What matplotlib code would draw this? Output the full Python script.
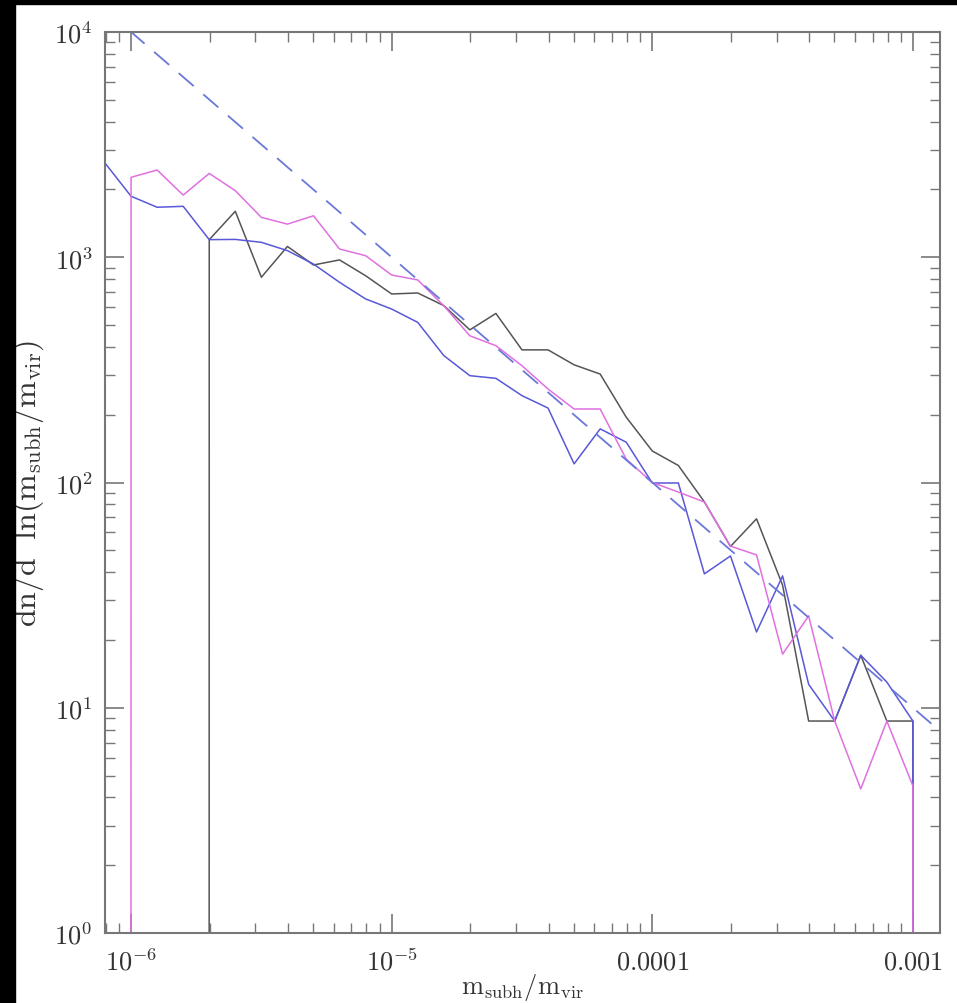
import matplotlib
matplotlib.use("Agg")
import matplotlib.pyplot as plt
import matplotlib.ticker as mticker
from matplotlib.patches import Rectangle

# bin centres, as log10(m_subh/m_vir)
log_m = [-6.1, -6.0, -5.9, -5.8, -5.7, -5.6, -5.5, -5.4, -5.3, -5.2, -5.1,
         -5.0, -4.9, -4.8, -4.7, -4.6, -4.5, -4.4, -4.3, -4.2, -4.1,
         -4.0, -3.9, -3.8, -3.7, -3.6, -3.5, -3.4, -3.3, -3.2, -3.1,
         -3.0, -2.9]

# dn/d ln(m) per run (0 = empty bin)
run_black = [0, 0, 0, 0, 1197, 1600, 815, 1117, 924, 973, 828,
             687, 694, 610, 476, 563, 388, 388, 333, 303, 195,
             138, 119, 82, 52, 69, 35, 8.73, 8.73, 17.1, 8.73,
             8.73, 0]
run_pink = [0, 2264, 2440, 1888, 2356, 1975, 1503, 1403, 1528, 1088, 1016,
            834, 793, 609, 448, 405, 330, 260, 212, 212, 127,
            100, 90.7, 81.9, 52.2, 47.7, 17.3, 25.6, 8.73, 4.36, 8.73,
            4.5, 0]
run_blue = [2620, 1866, 1667, 1683, 1197, 1200, 1165, 1070, 933, 774, 653,
            589, 514, 366, 298, 290, 243, 214, 121, 173, 151,
            99.5, 99.5, 39.3, 47.2, 21.7, 38.5, 12.7, 8.73, 17.1, 13.0,
            8.73, 0]

# power-law reference line (endpoints)
fit_x = [7.94e-7, 1.26e-3]
fit_y = [12600, 7.94]

xticks = [1e-6, 1e-5, 1e-4, 1e-3]
xticklabels = [r"$10^{-6}$", r"$10^{-5}$", r"$0.0001$", r"$0.001$"]
yticks = [1, 10, 100, 1000, 10000]
yticklabels = [r"$10^{0}$", r"$10^{1}$", r"$10^{2}$", r"$10^{3}$", r"$10^{4}$"]

plt.rcParams["mathtext.fontset"] = "cm"
plt.rcParams["font.family"] = "serif"

W, H = 957, 1004
fig = plt.figure(figsize=(W / 100, H / 100), dpi=100)
fig.patch.set_facecolor("white")
# black strips left/top as in the screenshot
fig.patches.append(Rectangle((0, 0), 15 / W, 1, transform=fig.transFigure, color="black", zorder=0))
fig.patches.append(Rectangle((0, 1 - 5 / H), 1, 5 / H, transform=fig.transFigure, color="black", zorder=0))

ax = fig.add_axes([105 / W, 1 - 934 / H, (940 - 105) / W, (934 - 33) / H])

x = [10 ** v for v in log_m]

ax.plot(x, run_black, color="#555555", lw=1.1)
ax.plot(x, run_blue, color="#5858d8", lw=1.1)
ax.plot(x, run_pink, color="#e070e0", lw=1.1)
ax.plot(fit_x, fit_y, color="#6a78d8", lw=1.3, dashes=(11, 7))

ax.set_xscale("log")
ax.set_yscale("log")
ax.set_xlim(10 ** -6.1, 10 ** -2.896)
ax.set_ylim(1, 1e4)

ax.xaxis.set_major_locator(mticker.FixedLocator(xticks))
ax.xaxis.set_major_formatter(mticker.FixedFormatter(xticklabels))
ax.yaxis.set_major_locator(mticker.FixedLocator(yticks))
ax.yaxis.set_major_formatter(mticker.FixedFormatter(yticklabels))
ax.xaxis.set_minor_locator(mticker.LogLocator(base=10, subs=range(2, 10), numticks=20))
ax.yaxis.set_minor_locator(mticker.LogLocator(base=10, subs=range(2, 10), numticks=20))
ax.xaxis.set_minor_formatter(mticker.NullFormatter())
ax.yaxis.set_minor_formatter(mticker.NullFormatter())

ax.tick_params(which="both", direction="in", top=True, right=True, color="#777777")
ax.tick_params(which="major", length=14, width=1.2, labelsize=19, labelcolor="#333333", pad=11)
ax.tick_params(axis="y", which="major", pad=9)
ax.tick_params(which="minor", length=7, width=1.0)
for s in ax.spines.values():
    s.set_color("#777777")
    s.set_linewidth(1.5)

ax.set_xlabel(r"$\mathrm{m_{subh}/m_{vir}}$", fontsize=19, color="#333333", labelpad=-3)
ax.set_ylabel(r"$\mathrm{dn/d\ \ ln(m_{subh}/m_{vir})}$", fontsize=23, color="#333333", labelpad=6)

fig.savefig("out.png", dpi=100, facecolor=fig.get_facecolor())
